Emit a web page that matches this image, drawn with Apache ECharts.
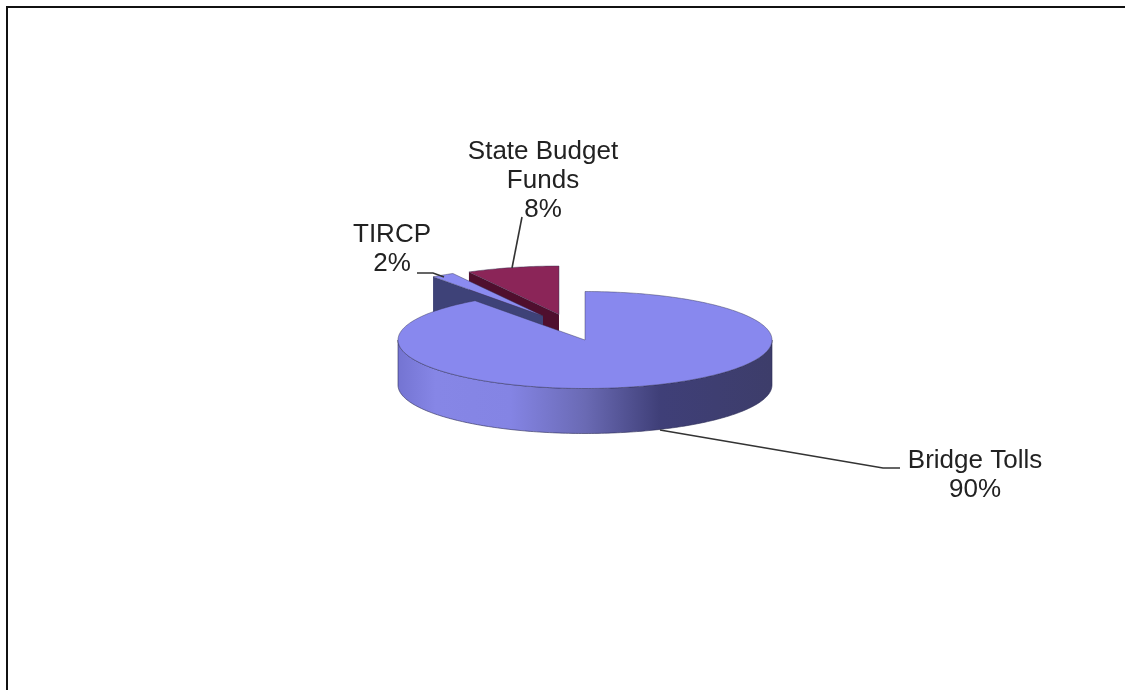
<!DOCTYPE html>
<html>
<head>
<meta charset="utf-8">
<title>Funding sources</title>
<style>
  html, body { margin: 0; padding: 0; background: #fff; }
  #chart { width: 1125px; height: 690px; }
</style>
<script src="https://cdn.jsdelivr.net/npm/echarts@6/dist/echarts.min.js"></script>
</head>
<body>
<div id="chart"></div>
<script>
// Funding shares, clockwise from twelve o'clock
const categories = ['Bridge Tolls', 'TIRCP', 'State Budget Funds'];
const shares = [90, 2, 8];

// Label wrapping, one entry per category
const labelNames = ['Bridge Tolls', 'TIRCP', 'State Budget\nFunds'];

// Tilted-disc geometry
const RX = 187, RY = 48.5, DEPTH = 45;

// Where each wedge's apex sits once pulled out of the disc
const apexes = [[585, 340], [543, 316], [559, 314.5]];

const topColors = ['#8888ee', '#8b8bf0', '#8b2558'];
const cutColors = ['#3c3f74', '#3e4278', '#4f0f2e'];
const rimStops = [
  [0, '#7474d2'], [0.1, '#8686e6'], [0.3, '#8484e4'], [0.5, '#6a6ab4'],
  [0.7, '#3f3f78'], [1, '#3d3d6a']
];

// Label centres and leader polylines
const labelAnchors = [[975, 475], [392, 249], [543, 180.5]];
const leaders = [
  [[660, 430], [883, 468], [900, 468]],
  [[417, 273], [433, 273], [444, 277]],
  [[522, 217], [512, 268]]
];

const TAU = Math.PI * 2;
const total = shares.reduce((s, v) => s + v, 0);

function rimPoint(c, t, drop) {
  return [c[0] + RX * Math.sin(t), c[1] - RY * Math.cos(t) + (drop || 0)];
}

function arc(c, from, to, drop) {
  const n = Math.max(2, Math.ceil(Math.abs(to - from) / (Math.PI / 180)));
  const out = [];
  for (let i = 0; i <= n; i++) out.push(rimPoint(c, from + (to - from) * i / n, drop));
  return out;
}

function renderSlice(params, api) {
  const i = params.dataIndex;
  const before = shares.slice(0, i).reduce((s, v) => s + v, 0);
  const start = before / total * TAU;
  const end = start + api.value(1) / total * TAU;
  const c = apexes[i];
  const z = i === 0 ? 30 : (i === 1 ? 20 : 10);
  const children = [];

  // Cut face running down from the wedge's trailing edge
  if (i > 0) {
    const corner = rimPoint(c, start);
    children.push({
      type: 'polygon', z2: z,
      shape: { points: [c, corner, [corner[0], corner[1] + DEPTH], [c[0], c[1] + DEPTH]] },
      style: { fill: cutColors[i] }
    });
  }

  // Outer wall: only the front half of the disc shows
  const wallFrom = Math.max(start, Math.PI / 2);
  const wallTo = Math.min(end, Math.PI * 1.5);
  if (wallTo > wallFrom) {
    const upper = arc(c, wallFrom, wallTo, 0);
    const lower = arc(c, wallTo, wallFrom, DEPTH);
    children.push({
      type: 'polygon', z2: z + 1,
      shape: { points: upper.concat(lower) },
      style: {
        fill: {
          type: 'linear', global: true,
          x: c[0] - RX, y: 0, x2: c[0] + RX, y2: 0,
          colorStops: rimStops.map(s => ({ offset: s[0], color: s[1] }))
        },
        stroke: '#2c2c55', lineWidth: 0.6
      }
    });
  }

  // Top face
  children.push({
    type: 'polygon', z2: z + 2,
    shape: { points: [c].concat(arc(c, start, end, 0)) },
    style: { fill: topColors[i], stroke: 'rgba(50,50,80,0.55)', lineWidth: 0.8 }
  });

  // Leader line and its label
  children.push({
    type: 'polyline', z2: 40,
    shape: { points: leaders[i] },
    style: { fill: null, stroke: '#333', lineWidth: 1.6 }
  });
  children.push({
    type: 'text', z2: 41,
    x: labelAnchors[i][0], y: labelAnchors[i][1],
    style: {
      text: labelNames[i] + '\n' + api.value(1) + '%',
      fontFamily: '"Liberation Sans", Arial, sans-serif',
      fontSize: 26, lineHeight: 29,
      fill: '#222', align: 'center', verticalAlign: 'middle'
    }
  });

  return { type: 'group', children };
}

const chart = echarts.init(document.getElementById('chart'), null, { renderer: 'canvas' });
chart.setOption({
  animation: false,
  backgroundColor: '#ffffff',
  graphic: [{
    type: 'polyline',
    shape: { points: [[7, 690], [7, 7], [1125, 7]] },
    style: { fill: null, stroke: '#111', lineWidth: 2 }
  }],
  series: [{
    type: 'custom',
    coordinateSystem: 'none',
    renderItem: renderSlice,
    data: categories.map((name, i) => ({ name, value: [i, shares[i]] }))
  }]
});
</script>
</body>
</html>
